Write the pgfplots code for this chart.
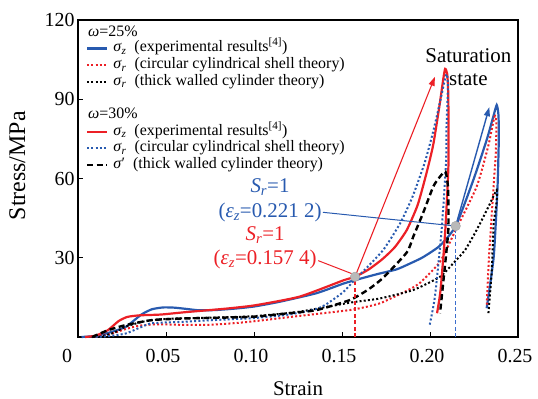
\documentclass[border=0pt]{standalone}
\usepackage{pgfplots}
\pgfplotsset{compat=1.18}
\usepackage{fontspec}
\setmainfont{Liberation Serif}
\usetikzlibrary{arrows.meta}
\definecolor{bluec}{RGB}{40,90,175}
\definecolor{bluel}{RGB}{60,110,205}
\definecolor{redc}{RGB}{236,32,38}
\definecolor{ptgray}{RGB}{185,185,185}
\newcommand{\sig}[1]{\textit{σ}\textsubscript{\textit{#1}}}
\begin{document}
\begin{tikzpicture}
\begin{axis}[
  scale only axis, width=440bp, height=317bp,
  xmin=0, xmax=0.25, ymin=0, ymax=120,
  axis line style={line width=1.5bp},
  tick align=inside, tick pos=left,
  major tick length=5bp,
  every tick/.style={black, line width=0.8bp},
  xtick={0,0.05,0.10,0.15,0.20,0.25},
  xticklabels={\makebox[0pt][r]{0\hspace{3bp}},0.05,0.10,0.15,0.20,0.25},
  ytick={30,60,90,120},
  yticklabels={30,60,90,120},
  tick label style={font=\fontsize{20}{24}\selectfont},
  xticklabel style={xshift=-3bp, yshift=-9bp},
  xlabel={Strain},
  ylabel={Stress/MPa},
  xlabel style={font=\fontsize{21}{24}\selectfont, at={(axis description cs:0.5,-0.164)}, anchor=center},
  ylabel style={font=\fontsize{24}{26}\selectfont, at={(axis description cs:-0.138,0.54)}, anchor=center, rotate=0},
  legend cell align=left,
  legend style={draw=none, fill=none, at={(0.018,0.934)}, anchor=north west,
    font=\fontsize{16}{16}\selectfont, inner sep=0pt, outer sep=0pt,
    nodes={inner sep=0pt, text height=11bp, text depth=4bp},
    row sep=1.67bp, column sep=5bp},
  legend image code/.code={\draw[#1] (0bp,0bp) -- (20bp,0bp);},
  clip=false,
]
% blue solid: omega 25 sigma z exp
\addplot[bluec, line width=2.2bp, smooth, tension=0.35] coordinates {
(0.002,0) (0.010,0.4) (0.017,1.5) (0.027,3.8) (0.036,8.5) (0.042,10.5) (0.0485,11.2)
(0.055,11.1) (0.062,10.6) (0.069,10.1) (0.078,10.2) (0.090,10.8) (0.1006,11.6)
(0.115,13.4) (0.1356,16.6) (0.1507,20.2) (0.160,22.0) (0.170,23.8) (0.181,25.6)
(0.1886,27.8) (0.196,30.2) (0.2057,34.6) (0.2146,42) (0.2246,59.4) (0.2322,74.6)
(0.2360,83.5) (0.2379,87.8) (0.2389,84) (0.2391,75) (0.2383,55.6) (0.2362,30.4) (0.2322,10.9)
};
\addlegendentry{\sig{z}\ \ (experimental results\textsuperscript{[4]})}

% red dotted: omega 25 sigma r circular shell
\addplot[redc, line width=2bp, dash pattern=on 2bp off 2.2bp, smooth, tension=0.35] coordinates {
(0.010,0) (0.017,0.8) (0.027,3.0) (0.035,4.3) (0.045,4.8) (0.060,4.6) (0.074,4.6)
(0.090,5.3) (0.1006,6.0) (0.126,8.0) (0.1545,10.2) (0.165,11.6) (0.1725,13.0)
(0.1868,17.5) (0.1943,20.5) (0.2057,28.5) (0.2146,40.5) (0.2265,56.9) (0.2330,72)
(0.2367,83.5) (0.2377,81) (0.2374,70) (0.2360,55.6) (0.2335,30) (0.2322,11.5)
};
\addlegendentry{\sig{r}\ \ (circular cylindrical shell theory)}

% black dotted: omega 25 sigma r thick walled
\addplot[black, line width=2bp, dash pattern=on 2bp off 2.2bp, smooth, tension=0.35] coordinates {
(0.012,0) (0.020,1.5) (0.027,3.9) (0.035,5.5) (0.042,6.4) (0.055,7.0) (0.080,7.4)
(0.1006,7.9) (0.125,9.5) (0.1545,13.0) (0.1716,14.6) (0.1905,17.8) (0.2057,22.8)
(0.2132,27.9) (0.2200,33) (0.2265,40.5) (0.2330,49) (0.2379,55.6) (0.2377,50)
(0.2362,43) (0.2350,24.1) (0.2331,8.3)
};
\addlegendentry{\sig{r}\ \ (thick walled cylinder theory)}

\addlegendimage{empty legend}
\addlegendentry{}
\addlegendimage{empty legend}
\addlegendentry{}

% red solid: omega 30 sigma z exp
\addplot[redc, line width=2.2bp, smooth, tension=0.35] coordinates {
(0.004,0) (0.010,0.5) (0.017,2.6) (0.023,6.0) (0.028,7.6) (0.035,8.2) (0.047,8.5)
(0.061,9.4) (0.0835,10.7) (0.1006,12.0) (0.126,15.3) (0.1506,21.4) (0.1574,22.8)
(0.165,25.5) (0.173,29.5) (0.180,34) (0.1868,40.5) (0.193,50) (0.198,62) (0.2019,73)
(0.2057,89) (0.2075,97.5) (0.2086,101.5) (0.2098,99.5) (0.2104,91) (0.2105,65.7)
(0.2087,40.5) (0.2060,17.8) (0.2040,9)
};
\addlegendentry{\sig{z}\ \ (experimental results\textsuperscript{[4]})}

% blue dotted: omega 30 sigma r circular shell
\addplot[bluec, line width=2bp, dash pattern=on 2bp off 2.2bp, smooth, tension=0.35] coordinates {
(0.010,0) (0.017,0.3) (0.027,1.3) (0.035,3.5) (0.042,5.2) (0.061,5.8) (0.080,6.5)
(0.1006,7.2) (0.120,8.5) (0.135,10.5) (0.1413,12.5) (0.1507,17) (0.157,21.5)
(0.163,25.5) (0.1735,33) (0.183,43) (0.190,53) (0.197,66) (0.2019,78) (0.2057,89)
(0.2083,97) (0.2095,99.5) (0.2102,95) (0.2093,78) (0.2091,65.7) (0.2066,40.5)
(0.2028,15.3) (0.1996,3.9)
};
\addlegendentry{\sig{r}\ \ (circular cylindrical shell theory)}

% black dashed: omega 30 sigma' thick walled
\addplot[black, line width=2.4bp, dash pattern=on 6bp off 3.5bp, smooth, tension=0.35] coordinates {
(0.008,0) (0.0172,2.6) (0.027,4.5) (0.042,6.4) (0.060,7.0) (0.080,7.3) (0.1006,7.7)
(0.120,9) (0.1356,10.2) (0.1545,14) (0.165,18) (0.1735,22.5) (0.1868,32) (0.1905,38)
(0.196,46.8) (0.2019,57) (0.2057,60.7) (0.2088,62.6) (0.2103,56) (0.2104,40.5)
(0.2082,25) (0.2057,9)
};
\addlegendentry{\textit{σ}′\ \ (thick walled cylinder theory)}

% annotations
\addplot[draw=redc, line width=1.2bp, dash pattern=on 4bp off 2.5bp, forget plot] coordinates {(0.1574,0) (0.1574,22.8)};
\addplot[draw=bluel, line width=1.3bp, dash pattern=on 4bp off 2.5bp, forget plot] coordinates {(0.2146,0) (0.2146,42)};
\addplot[redc, line width=1.1bp, -{Triangle[length=9bp,width=6bp]}, forget plot] coordinates {(0.1574,22.8) (0.2028,98.5)};
\addplot[bluec, line width=1.4bp, -{Triangle[length=9bp,width=6bp]}, forget plot] coordinates {(0.2146,42) (0.2337,87)};
\addplot[bluec, line width=1bp, forget plot] coordinates {(0.1392,47.2) (0.2146,42)};
\addplot[redc, line width=1bp, forget plot] coordinates {(0.1365,28.9) (0.1555,24.0)};
\addplot[only marks, mark=*, mark size=4.8bp, mark options={fill=ptgray, draw=ptgray!85!black, line width=0.3bp}, forget plot] coordinates {(0.1574,22.8) (0.2146,42)};

\node[anchor=west, font=\fontsize{16}{16}\selectfont, inner sep=0pt] at (axis cs:0.0057,115.6) {\textit{ω}=25\%};
\node[anchor=west, font=\fontsize{16}{16}\selectfont, inner sep=0pt] at (axis cs:0.0057,84.7) {\textit{ω}=30\%};
\node[bluec, font=\fontsize{21}{24}\selectfont] at (axis cs:0.1091,56.6) {\textit{S}\textsubscript{\textit{r}}=1};
\node[bluec, font=\fontsize{21}{24}\selectfont] at (axis cs:0.1091,47.0) {(\textit{ε}\textsubscript{\textit{z}}=0.221 2)};
\node[redc, font=\fontsize{21}{24}\selectfont] at (axis cs:0.1063,38.6) {\textit{S}\textsubscript{\textit{r}}=1};
\node[redc, font=\fontsize{21}{24}\selectfont] at (axis cs:0.1063,29.3) {(\textit{ε}\textsubscript{\textit{z}}=0.157 4)};
\node[align=center, font=\fontsize{21}{23}\selectfont] at (axis cs:0.2218,102.3) {Saturation\\state};
\end{axis}
\pgfresetboundingbox
\path[use as bounding box] ([shift={(-78bp,-62bp)}]current axis.south west) rectangle ([shift={(20bp,20bp)}]current axis.north east);
\end{tikzpicture}
\end{document}
